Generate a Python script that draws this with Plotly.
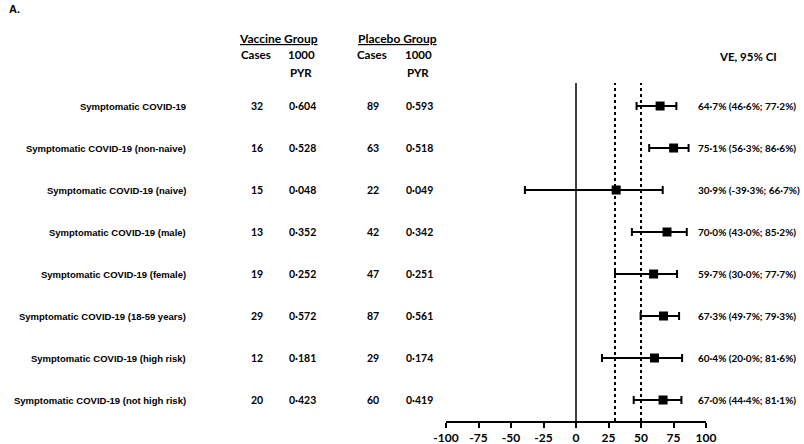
import plotly.graph_objects as go

labels = [
    "Symptomatic COVID-19",
    "Symptomatic COVID-19 (non-naive)",
    "Symptomatic COVID-19 (naive)",
    "Symptomatic COVID-19 (male)",
    "Symptomatic COVID-19 (female)",
    "Symptomatic COVID-19 (18-59 years)",
    "Symptomatic COVID-19 (high risk)",
    "Symptomatic COVID-19 (not high risk)",
]
vac_cases = [32, 16, 15, 13, 19, 29, 12, 20]
vac_pyr = [0.604, 0.528, 0.048, 0.352, 0.252, 0.572, 0.181, 0.423]
pla_cases = [89, 63, 22, 42, 47, 87, 29, 60]
pla_pyr = [0.593, 0.518, 0.049, 0.342, 0.251, 0.561, 0.174, 0.419]
ve = [64.7, 75.1, 30.9, 70.0, 59.7, 67.3, 60.4, 67.0]
ci_lo = [46.6, 56.3, -39.3, 43.0, 30.0, 49.7, 20.0, 44.4]
ci_hi = [77.2, 86.6, 66.7, 85.2, 77.7, 79.3, 81.6, 81.1]
ref_lines = [30, 50]
x_ticks = [-100, -75, -50, -25, 0, 25, 50, 75, 100]

W, H = 804, 444
rows = list(range(len(labels)))

def py(px):
    return 1 - px / H

def px_x(px):
    return px / W

def dot(v, n):
    return f"{v:.{n}f}".replace(".", "·")

fig = go.Figure()
fig.add_trace(go.Scatter(
    x=ve, y=rows, mode="markers",
    marker=dict(symbol="square", size=9, color="black"),
    error_x=dict(type="data", symmetric=False,
                 array=[h - v for h, v in zip(ci_hi, ve)],
                 arrayminus=[v - l for v, l in zip(ve, ci_lo)],
                 thickness=2, width=4, color="black"),
    showlegend=False, hoverinfo="skip",
))

# reference lines
fig.add_shape(type="line", xref="x", yref="paper", x0=0, x1=0,
              y0=py(421), y1=py(83), line=dict(color="black", width=1.5))
for r in ref_lines:
    fig.add_shape(type="line", xref="x", yref="paper", x0=r, x1=r,
                  y0=py(421), y1=py(83), line=dict(color="black", width=2, dash="dot"))

LAB = dict(family="Liberation Sans", size=9.5, color="black")
CAL = dict(family="Lato", size=10.5, color="black")
VEF = dict(family="Lato", size=10, color="black")

ann = []
for i in rows:
    ann.append(dict(x=px_x(188), y=i, xref="paper", yref="y", text=f"<b>{labels[i]}</b>",
                    xanchor="right", yanchor="middle", showarrow=False, font=LAB))
    ann.append(dict(x=px_x(257), y=i, xref="paper", yref="y", text=f"<b>{vac_cases[i]}</b>",
                    xanchor="center", yanchor="middle", showarrow=False, font=CAL))
    ann.append(dict(x=px_x(302), y=i, xref="paper", yref="y", text=f"<b>{dot(vac_pyr[i], 3)}</b>",
                    xanchor="center", yanchor="middle", showarrow=False, font=CAL))
    ann.append(dict(x=px_x(373), y=i, xref="paper", yref="y", text=f"<b>{pla_cases[i]}</b>",
                    xanchor="center", yanchor="middle", showarrow=False, font=CAL))
    ann.append(dict(x=px_x(419), y=i, xref="paper", yref="y", text=f"<b>{dot(pla_pyr[i], 3)}</b>",
                    xanchor="center", yanchor="middle", showarrow=False, font=CAL))
    txt = f"{dot(ve[i],1)}% ({dot(ci_lo[i],1)}%; {dot(ci_hi[i],1)}%)"
    ann.append(dict(x=px_x(696), y=i, xref="paper", yref="y", text=f"<b>{txt}</b>",
                    xanchor="left", yanchor="middle", showarrow=False, font=VEF))

def hdr(x, y, t, size=11.5):
    ann.append(dict(x=px_x(x), y=py(y), xref="paper", yref="paper", text=f"<b>{t}</b>",
                    xanchor="center", yanchor="middle", showarrow=False,
                    font=dict(family="Lato", size=size, color="black")))

hdr(278, 38, "<u>Vaccine Group</u>", 12)
hdr(397, 38, "<u>Placebo Group</u>", 12)
hdr(256, 55, "Cases")
hdr(301, 55, "1000")
hdr(301, 72, "PYR")
hdr(372, 55, "Cases")
hdr(418, 55, "1000")
hdr(418, 72, "PYR")
hdr(748, 56, "VE, 95% CI")
ann.append(dict(x=px_x(7), y=py(9), xref="paper", yref="paper", text="<b>A.</b>",
                xanchor="left", yanchor="middle", showarrow=False,
                font=dict(family="Liberation Sans", size=11, color="black")))

fig.update_layout(
    width=W, height=H,
    margin=dict(l=0, r=0, t=0, b=0, autoexpand=False),
    paper_bgcolor="white", plot_bgcolor="white",
    annotations=ann,
    xaxis=dict(domain=[px_x(446), px_x(706)], range=[-100, 100],
               tickvals=x_ticks, ticktext=[f"<b>{t}</b>" for t in x_ticks],
               showline=True, linecolor="black", linewidth=2,
               ticks="outside", ticklen=5, tickwidth=2, tickcolor="black",
               showgrid=False, zeroline=False, automargin=False,
               tickfont=dict(family="Lato", size=12, color="black"),
               anchor="y"),
    yaxis=dict(domain=[py(421), py(83)], range=[7.5, -0.548],
               visible=False, showgrid=False, zeroline=False),
)

fig.write_html("out.html", config={"displayModeBar": False},
               post_script="document.body.style.margin='0';document.body.style.overflow='hidden';")
